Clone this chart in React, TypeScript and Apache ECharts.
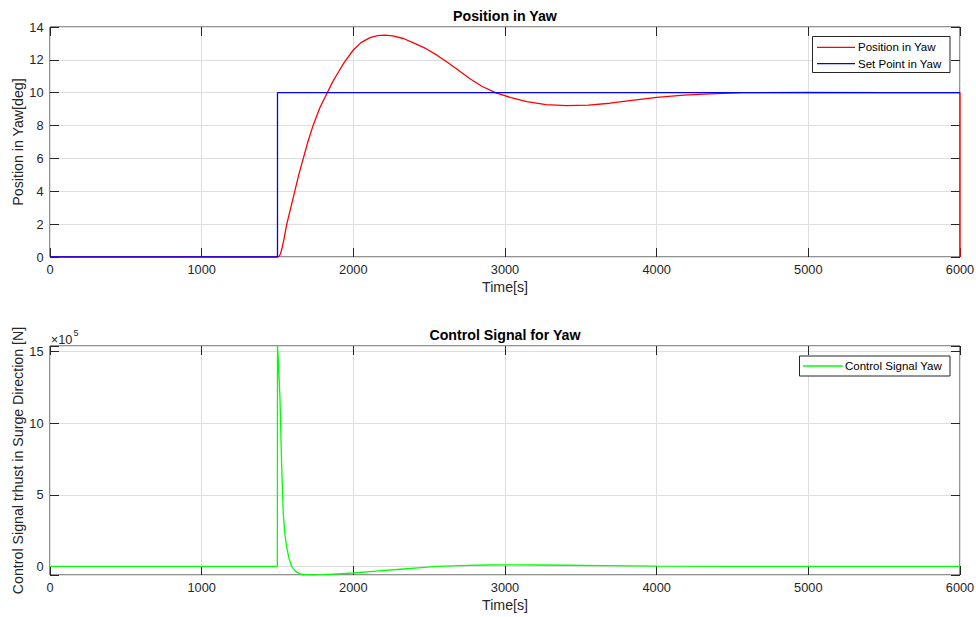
import React, { useEffect, useRef } from "react";
import * as echarts from "echarts";

// ---- data ----
const setPointTime = [0, 1500, 1500, 6000];
const setPointValue = [0, 0, 10, 10];

const yawTime = [
  0, 1500, 1510, 1520, 1530, 1545, 1560, 1590, 1615, 1640, 1670, 1700, 1736, 1780,
  1828, 1860, 1890, 1940, 2000, 2050, 2110, 2160, 2209, 2260, 2330, 2400, 2480,
  2549, 2620, 2700, 2769, 2850, 2945, 3040, 3143, 3270, 3406, 3550, 3692, 3850,
  4000, 4180, 4351, 4570, 5000, 5500, 6000, 6000,
];
const yawValue = [
  0, 0, 0.03, 0.2, 0.55, 1.2, 1.95, 3.1, 4.04, 5.0, 6.0, 7.0, 8.04, 9.1,
  10.0, 10.6, 11.08, 11.85, 12.6, 13.05, 13.35, 13.48, 13.51, 13.46, 13.3, 13.02, 12.68,
  12.3, 11.85, 11.32, 10.85, 10.38, 9.98, 9.7, 9.46, 9.28, 9.21, 9.25, 9.36, 9.55,
  9.72, 9.85, 9.93, 10.0, 10.02, 10.0, 10.0, 0,
];

const controlTime = [
  0, 1499, 1500, 1505, 1516, 1527, 1538, 1548, 1560, 1575, 1593, 1620, 1648, 1690,
  1736, 1800, 1900, 2000, 2150, 2330, 2450, 2549, 2700, 2879, 3050, 3209, 3400,
  3648, 4000, 4500, 5000, 6000,
];
const controlValue = [
  0, 0, 1540000, 1450000, 1185000, 720000, 370000, 230000, 140000, 60000, 0, -35000,
  -53000, -59000, -60000, -58000, -52000, -46000, -33000, -18000, -8000, 0, 6000,
  10000, 11000, 10000, 8000, 5000, 2000, 500, 0, 0,
];

const xTickInterval = 1000;
const xMin = 0;
const xMax = 6000;
const yawMin = 0;
const yawMax = 14;
const yawInterval = 2;
const ctrlMin = -60000;
const ctrlMax = 1540000;

const zip = (a: number[], b: number[]) => a.map((v, i) => [v, b[i]]);

const FONT = "'Liberation Sans', Arial, Helvetica, sans-serif";
const AX = "#262626";
const GRIDC = "#dedede";

function xAxisCfg(gridIndex: number, position: "bottom" | "top", main: boolean) {
  return {
    type: "value",
    gridIndex,
    position,
    min: xMin,
    max: xMax,
    interval: xTickInterval,
    name: main ? "Time[s]" : "",
    nameLocation: "middle",
    nameGap: 23,
    nameMoveOverlap: false,
    nameTextStyle: { fontFamily: FONT, fontSize: 14.2, color: AX },
    axisLine: { show: false, onZero: false },
    axisTick: { show: true, inside: true, length: 9, lineStyle: { color: AX, width: 1 } },
    axisLabel: {
      show: main,
      margin: 6,
      fontFamily: FONT,
      fontSize: 12.8,
      color: AX,
      formatter: (v: number) => String(v),
    },
    splitLine: { show: main, lineStyle: { color: GRIDC, width: 1 } },
  };
}

export default function App() {
  const ref = useRef<HTMLDivElement>(null);

  useEffect(() => {
    if (!ref.current) return;
    document.body.style.margin = "0";
    const chart = echarts.init(ref.current, undefined, { renderer: "svg" });

    const yTick = () => ({ show: true, inside: true, length: 9, lineStyle: { color: AX, width: 1 } });
    const yLabel = { margin: 6.5, fontFamily: FONT, fontSize: 12.8, color: AX };
    const ctrlFormatter = (v: number) =>
      Math.abs(v % 500000) < 1 ? String(Math.round(v / 100000)) : "";

    const option: any = {
      animation: false,
      backgroundColor: "#ffffff",
      title: [
        {
          text: "Position in Yaw",
          left: 505,
          top: 8.7,
          textAlign: "center",
          padding: 0,
          textStyle: { fontFamily: FONT, fontSize: 14.2, fontWeight: "bold", color: "#000" },
        },
        {
          text: "Control Signal for Yaw",
          left: 505,
          top: 327.7,
          textAlign: "center",
          padding: 0,
          textStyle: { fontFamily: FONT, fontSize: 14.2, fontWeight: "bold", color: "#000" },
        },
      ],
      grid: [
        {
          left: 50, top: 27, width: 910, height: 230,
          show: true, borderColor: AX, borderWidth: 1, backgroundColor: "#fff",
          containLabel: false, outerBoundsMode: "none",
        },
        {
          left: 50, top: 346, width: 910, height: 229,
          show: true, borderColor: AX, borderWidth: 1, backgroundColor: "#fff",
          containLabel: false, outerBoundsMode: "none",
        },
      ],
      xAxis: [
        xAxisCfg(0, "bottom", true),
        xAxisCfg(0, "top", false),
        xAxisCfg(1, "bottom", true),
        xAxisCfg(1, "top", false),
      ],
      yAxis: [
        {
          type: "value", gridIndex: 0, position: "left",
          min: yawMin, max: yawMax, interval: yawInterval,
          name: "Position in Yaw[deg]", nameLocation: "middle", nameRotate: 90, nameGap: 25,
          nameMoveOverlap: false,
          nameTextStyle: { fontFamily: FONT, fontSize: 14.2, color: AX },
          axisLine: { show: false, onZero: false }, axisTick: yTick(), axisLabel: yLabel,
          splitLine: { show: true, lineStyle: { color: GRIDC, width: 1 } },
        },
        {
          type: "value", gridIndex: 0, position: "right",
          min: yawMin, max: yawMax, interval: yawInterval,
          axisLine: { show: false, onZero: false }, axisTick: yTick(), axisLabel: { show: false },
          splitLine: { show: false },
        },
        {
          type: "value", gridIndex: 1, position: "left",
          min: ctrlMin, max: ctrlMax, splitNumber: 3,
          name: "Control Signal trhust in Surge Direction [N]", nameLocation: "middle",
          nameRotate: 90, nameGap: 25, nameMoveOverlap: false,
          nameTextStyle: { fontFamily: FONT, fontSize: 14.2, color: AX },
          axisLine: { show: false, onZero: false }, axisTick: yTick(),
          axisLabel: { ...yLabel, formatter: ctrlFormatter },
          splitLine: { show: true, lineStyle: { color: GRIDC, width: 1 } },
        },
        {
          type: "value", gridIndex: 1, position: "right",
          min: ctrlMin, max: ctrlMax, splitNumber: 3,
          axisLine: { show: false, onZero: false }, axisTick: yTick(), axisLabel: { show: false },
          splitLine: { show: false },
        },
      ],
      series: [
        {
          name: "Position in Yaw", type: "line", xAxisIndex: 0, yAxisIndex: 0,
          data: zip(yawTime, yawValue), symbol: "none", showSymbol: false,
          lineStyle: { color: "#ff0000", width: 1.3 }, itemStyle: { color: "#ff0000" },
          emphasis: { disabled: true },
        },
        {
          name: "Set Point in Yaw", type: "line", xAxisIndex: 0, yAxisIndex: 0,
          data: zip(setPointTime, setPointValue), symbol: "none", showSymbol: false,
          lineStyle: { color: "#0000ff", width: 1.3 }, itemStyle: { color: "#0000ff" },
          emphasis: { disabled: true },
        },
        {
          name: "Control Signal Yaw", type: "line", xAxisIndex: 2, yAxisIndex: 2,
          data: zip(controlTime, controlValue), symbol: "none", showSymbol: false,
          lineStyle: { color: "#00ff00", width: 1.3 }, itemStyle: { color: "#00ff00" },
          emphasis: { disabled: true },
        },
      ],
      graphic: [
        {
          type: "text", x: 50.7, y: 339.5, z: 100,
          style: { text: "×10", fontFamily: FONT, fontSize: 12.8, fill: AX, align: "left", verticalAlign: "middle" },
        },
        {
          type: "text", x: 73.5, y: 333.3, z: 100,
          style: { text: "5", fontFamily: FONT, fontSize: 9, fill: AX, align: "left", verticalAlign: "middle" },
        },
        {
          type: "rect", z: 100,
          shape: { x: 812.5, y: 36.5, width: 137.5, height: 36 },
          style: { fill: "#fff", stroke: AX, lineWidth: 1 },
        },
        {
          type: "line", z: 101,
          shape: { x1: 817, y1: 47.3, x2: 855, y2: 47.3 },
          style: { stroke: "#ff0000", lineWidth: 1.3 },
        },
        {
          type: "text", x: 858, y: 47.3, z: 101,
          style: { text: "Position in Yaw", fontFamily: FONT, fontSize: 11.5, fill: "#000", align: "left", verticalAlign: "middle" },
        },
        {
          type: "line", z: 101,
          shape: { x1: 817, y1: 63.7, x2: 855, y2: 63.7 },
          style: { stroke: "#0000ff", lineWidth: 1.3 },
        },
        {
          type: "text", x: 858, y: 63.7, z: 101,
          style: { text: "Set Point in Yaw", fontFamily: FONT, fontSize: 11.5, fill: "#000", align: "left", verticalAlign: "middle" },
        },
        {
          type: "rect", z: 100,
          shape: { x: 799.5, y: 356, width: 150.5, height: 20 },
          style: { fill: "#fff", stroke: AX, lineWidth: 1 },
        },
        {
          type: "line", z: 101,
          shape: { x1: 803, y1: 366, x2: 842.7, y2: 366 },
          style: { stroke: "#00ff00", lineWidth: 1.3 },
        },
        {
          type: "text", x: 845, y: 366, z: 101,
          style: { text: "Control Signal Yaw", fontFamily: FONT, fontSize: 11.5, fill: "#000", align: "left", verticalAlign: "middle" },
        },
      ],
    };

    chart.setOption(option);
    return () => chart.dispose();
  }, []);

  return (
    <div
      ref={ref}
      style={{ position: "absolute", left: 0, top: 0, width: 976, height: 617 }}
    />
  );
}
